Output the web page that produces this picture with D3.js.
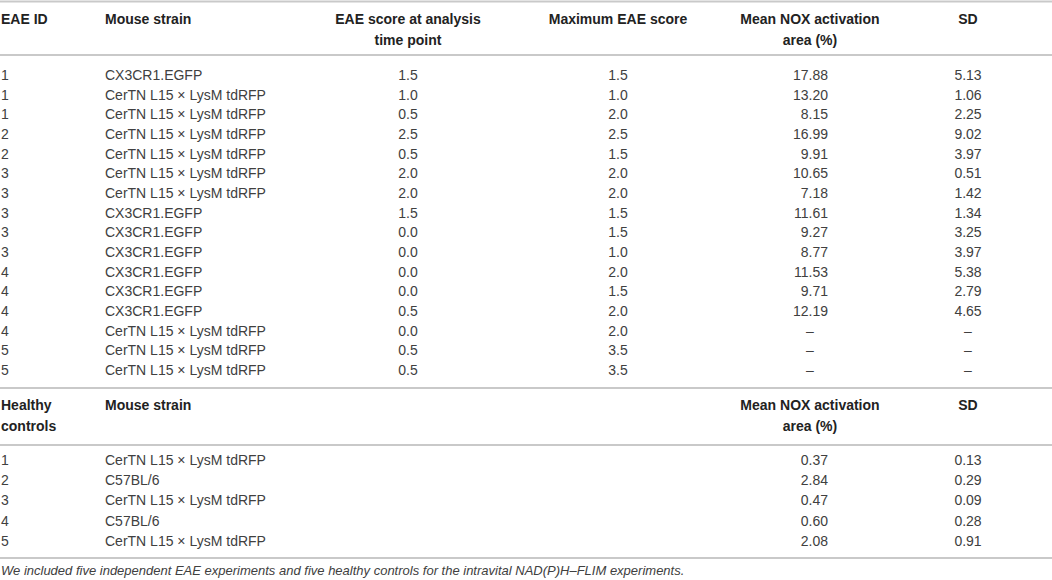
<!DOCTYPE html>
<html>
    <head>
        <meta charset="utf-8">
        <title>EAE NOX activation table</title>
        <script type="text/javascript" src="https://cdn.jsdelivr.net/npm/d3@7"></script>
        <style>
            body { margin: 0; background: #fff; }
        </style>
    </head>
    <body>
        <svg id="svg"></svg>

        <script>
            var WIDTH = 1052;
            var HEIGHT = 580;

            // EAE animals
            var eaeIds = [1, 1, 1, 2, 2, 3, 3, 3, 3, 3, 4, 4, 4, 4, 5, 5];
            var eaeStrains = [
                "CX3CR1.EGFP", "CerTN L15 × LysM tdRFP", "CerTN L15 × LysM tdRFP",
                "CerTN L15 × LysM tdRFP", "CerTN L15 × LysM tdRFP", "CerTN L15 × LysM tdRFP",
                "CerTN L15 × LysM tdRFP", "CX3CR1.EGFP", "CX3CR1.EGFP", "CX3CR1.EGFP",
                "CX3CR1.EGFP", "CX3CR1.EGFP", "CX3CR1.EGFP", "CerTN L15 × LysM tdRFP",
                "CerTN L15 × LysM tdRFP", "CerTN L15 × LysM tdRFP"
            ];
            var eaeScoreAtAnalysis = [1.5, 1.0, 0.5, 2.5, 0.5, 2.0, 2.0, 1.5, 0.0, 0.0, 0.0, 0.0, 0.5, 0.0, 0.5, 0.5];
            var eaeMaxScore = [1.5, 1.0, 2.0, 2.5, 1.5, 2.0, 2.0, 1.5, 1.5, 1.0, 2.0, 1.5, 2.0, 2.0, 3.5, 3.5];
            var eaeMeanNox = [17.88, 13.20, 8.15, 16.99, 9.91, 10.65, 7.18, 11.61, 9.27, 8.77, 11.53, 9.71, 12.19, null, null, null];
            var eaeSd = [5.13, 1.06, 2.25, 9.02, 3.97, 0.51, 1.42, 1.34, 3.25, 3.97, 5.38, 2.79, 4.65, null, null, null];

            // healthy controls
            var ctrlIds = [1, 2, 3, 4, 5];
            var ctrlStrains = ["CerTN L15 × LysM tdRFP", "C57BL/6", "CerTN L15 × LysM tdRFP", "C57BL/6", "CerTN L15 × LysM tdRFP"];
            var ctrlMeanNox = [0.37, 2.84, 0.47, 0.60, 2.08];
            var ctrlSd = [0.13, 0.29, 0.09, 0.28, 0.91];

            var eaeHeaders = [["EAE ID"], ["Mouse strain"], ["EAE score at analysis", "time point"],
                              ["Maximum EAE score"], ["Mean NOX activation", "area (%)"], ["SD"]];
            var ctrlHeaders = [["Healthy", "controls"], ["Mouse strain"], [], [], ["Mean NOX activation", "area (%)"], ["SD"]];
            var caption = "We included five independent EAE experiments and five healthy controls for the intravital NAD(P)H–FLIM experiments.";

            var FONT = "'Liberation Sans', Arial, Helvetica, sans-serif";
            var TEXT = "#404040";
            var RULE = "#c9c9c9";

            // column layout: x position and anchor
            var cols = [
                {x: 1, anchor: "start"},
                {x: 105, anchor: "start"},
                {x: 408, anchor: "middle"},
                {x: 618, anchor: "middle"},
                {x: 810, anchor: "middle", numRight: 828},
                {x: 968, anchor: "middle"}
            ];

            var svg = d3.select('#svg')
                        .attr('width', WIDTH)
                        .attr('height', HEIGHT)
                        .attr('font-family', FONT);

            var yEae = d3.scalePoint().domain(d3.range(eaeIds.length)).range([75, 370]);
            var yCtrl = d3.scalePoint().domain(d3.range(ctrlIds.length)).range([460, 541]);

            // horizontal rules
            svg.selectAll('line.rule')
               .data([1.5, 55, 388, 445, 558])
               .enter()
               .append('line')
               .attr('class', 'rule')
               .attr('x1', 0).attr('x2', WIDTH)
               .attr('y1', function(d){ return d; })
               .attr('y2', function(d){ return d; })
               .attr('stroke', RULE)
               .attr('stroke-width', 2);

            var drawHeader = function(headers, top){
                headers.forEach(function(lines, c){
                    lines.forEach(function(txt, k){
                        svg.append('text')
                           .attr('x', cols[c].x)
                           .attr('y', top + k*21)
                           .attr('dy', '0.35em')
                           .attr('text-anchor', cols[c].anchor)
                           .attr('font-size', '14px')
                           .attr('font-weight', 'bold')
                           .attr('fill', '#222')
                           .text(txt);
                    });
                });
            };
            drawHeader(eaeHeaders, 19);
            drawHeader(ctrlHeaders, 405);

            var fmt1 = d3.format('.1f');
            var fmt2 = d3.format('.2f');

            var drawColumn = function(values, yScale, c, fmt){
                svg.append('g').selectAll('text')
                   .data(values)
                   .enter()
                   .append('text')
                   .attr('x', function(d){
                       if (d === null) return cols[c].x;
                       return cols[c].numRight !== undefined && fmt ? cols[c].numRight : cols[c].x;
                   })
                   .attr('y', function(d, i){ return yScale(i); })
                   .attr('dy', '0.35em')
                   .attr('text-anchor', function(d){
                       if (d === null) return 'middle';
                       return cols[c].numRight !== undefined && fmt ? 'end' : cols[c].anchor;
                   })
                   .attr('font-size', '14px')
                   .attr('fill', TEXT)
                   .text(function(d){
                       if (d === null) return '–';
                       return fmt ? fmt(d) : d;
                   });
            };

            drawColumn(eaeIds, yEae, 0, null);
            drawColumn(eaeStrains, yEae, 1, null);
            drawColumn(eaeScoreAtAnalysis, yEae, 2, fmt1);
            drawColumn(eaeMaxScore, yEae, 3, fmt1);
            drawColumn(eaeMeanNox, yEae, 4, fmt2);
            drawColumn(eaeSd, yEae, 5, fmt2);

            drawColumn(ctrlIds, yCtrl, 0, null);
            drawColumn(ctrlStrains, yCtrl, 1, null);
            drawColumn(ctrlMeanNox, yCtrl, 4, fmt2);
            drawColumn(ctrlSd, yCtrl, 5, fmt2);

            svg.append('text')
               .attr('x', 1)
               .attr('y', 570)
               .attr('dy', '0.35em')
               .attr('font-size', '13px')
               .attr('font-style', 'italic')
               .attr('fill', TEXT)
               .text(caption);
        </script>
    </body>
</html>
